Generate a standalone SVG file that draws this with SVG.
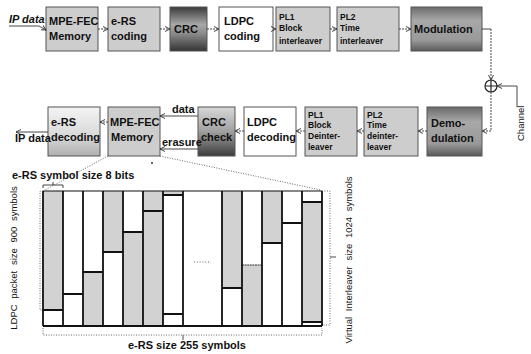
<svg xmlns="http://www.w3.org/2000/svg" width="531" height="354" viewBox="0 0 531 354">
<style>
.box{stroke:#555;stroke-width:1}
.lt{fill:#cdcdcd}
.wh{fill:#fff}
.lbl{font-family:"Liberation Sans",Arial,sans-serif;font-weight:bold;font-size:11px;fill:#111}
.sm{font-size:8.5px}
.txt{font-family:"Liberation Sans",Arial,sans-serif;font-size:9.5px;fill:#111}
.conn{fill:none;stroke:#333;stroke-width:0.9;stroke-dasharray:2 1}
.solid{fill:none;stroke:#333;stroke-width:0.9}
.dim{fill:none;stroke:#444;stroke-width:0.8;stroke-dasharray:1 1.5}
.g{fill:#d2d2d2}
.thick{stroke:#111;stroke-width:1.8}
</style>
<defs>
<marker id="ah" markerWidth="6" markerHeight="6" refX="5" refY="3" orient="auto" markerUnits="userSpaceOnUse">
<path d="M0,0.5 L5,3 L0,5.5" fill="none" stroke="#333" stroke-width="0.9"/>
</marker>
<linearGradient id="crc1" x1="0" y1="0" x2="0" y2="1">
<stop offset="0" stop-color="#3a3a3a"/><stop offset="0.4" stop-color="#a8a8a8"/><stop offset="0.6" stop-color="#8c8c8c"/><stop offset="1" stop-color="#333"/>
</linearGradient>
<linearGradient id="mod" x1="0" y1="0" x2="0" y2="1">
<stop offset="0" stop-color="#6a6a6a"/><stop offset="0.3" stop-color="#a8a8a8"/><stop offset="0.75" stop-color="#9a9a9a"/><stop offset="1" stop-color="#5a5a5a"/>
</linearGradient>
<linearGradient id="crc2" x1="0" y1="0" x2="0" y2="1">
<stop offset="0" stop-color="#d8d8d8"/><stop offset="0.5" stop-color="#a0a0a0"/><stop offset="1" stop-color="#3c3c3c"/>
</linearGradient>
<linearGradient id="ers" x1="0" y1="0" x2="0" y2="1">
<stop offset="0" stop-color="#f4f4f4"/><stop offset="0.6" stop-color="#d8d8d8"/><stop offset="1" stop-color="#b0b0b0"/>
</linearGradient>
</defs>

<!-- top row -->
<g id="mpe1"><rect class="box lt" x="46" y="7" width="52" height="44"/><text class="lbl" x="49" y="25" font-size="9.5">MPE-FEC</text><text class="lbl" x="49" y="40" font-size="10">Memory</text></g>
<g id="ers1"><rect class="box lt" x="108" y="7" width="52" height="44"/><text class="lbl" x="111" y="25">e-RS</text><text class="lbl" x="111" y="40">coding</text></g>
<g id="crc1b"><rect class="box" fill="url(#crc1)" x="170" y="7" width="37" height="44"/><text class="lbl" x="174" y="33">CRC</text></g>
<g id="ldpc1"><rect class="box wh" x="219" y="7" width="54" height="44"/><text class="lbl" x="224" y="25">LDPC</text><text class="lbl" x="224" y="40">coding</text></g>
<g id="pl1a"><rect class="box lt" x="276" y="7" width="54" height="44"/><text class="lbl sm" x="279" y="20">PL1</text><text class="lbl sm" x="279" y="31">Block</text><text class="lbl sm" x="279" y="44">interleaver</text></g>
<g id="pl2a"><rect class="box lt" x="337" y="7" width="62" height="44"/><text class="lbl sm" x="340" y="20">PL2</text><text class="lbl sm" x="340" y="31">Time</text><text class="lbl sm" x="340" y="44">interleaver</text></g>
<g id="mod1"><rect class="box" fill="url(#mod)" x="411" y="7" width="71" height="44"/><text class="lbl" x="414" y="33" font-size="12">Modulation</text></g>

<!-- adder -->
<g id="adder"><circle cx="491" cy="86" r="6" fill="#fff" stroke="#222" stroke-width="1.2"/><path d="M485,86 H497 M491,80 V92" stroke="#222" stroke-width="1.2"/></g>
<g id="channel"><text class="txt" transform="translate(524,141) rotate(-90)">Channel</text></g>

<!-- second row -->
<g id="ersd"><rect class="box" fill="url(#ers)" x="48" y="107" width="52" height="49"/><text class="lbl" x="51" y="126">e-RS</text><text class="lbl" x="51" y="141" font-size="10.5">decoding</text></g>
<g id="mpe2"><rect class="box lt" x="108" y="107" width="52" height="49"/><text class="lbl" x="110" y="126" font-size="9.5">MPE-FEC</text><text class="lbl" x="111" y="141" font-size="10">Memory</text></g>
<g id="crc2b"><rect class="box" fill="url(#crc2)" x="198" y="107" width="37" height="49"/><text class="lbl" x="202" y="126">CRC</text><text class="lbl" x="201" y="141">check</text></g>
<g id="ldpc2"><rect class="box wh" x="244" y="107" width="52" height="49"/><text class="lbl" x="247" y="126">LDPC</text><text class="lbl" x="247" y="141" font-size="10.5">decoding</text></g>
<g id="pl1b"><rect class="box lt" x="305" y="107" width="52" height="49"/><text class="lbl sm" x="308" y="118">PL1</text><text class="lbl sm" x="308" y="128">Block</text><text class="lbl sm" x="308" y="139">Deinter-</text><text class="lbl sm" x="308" y="150">leaver</text></g>
<g id="pl2b"><rect class="box lt" x="364" y="107" width="54" height="49"/><text class="lbl sm" x="367" y="118">PL2</text><text class="lbl sm" x="367" y="128">Time</text><text class="lbl sm" x="367" y="139">deinter-</text><text class="lbl sm" x="367" y="150">leaver</text></g>
<g id="demod"><rect class="box" fill="url(#mod)" x="427" y="107" width="55" height="49"/><text class="lbl" x="431" y="127">Demo-</text><text class="lbl" x="431" y="142">dulation</text></g>

<!-- connectors -->
<g id="connectors">
<text class="lbl" x="9" y="23" font-size="8.5" font-style="italic">IP data</text>
<path class="solid" d="M9,26 H39 L46,30" marker-end="url(#ah)"/>
<path class="conn" d="M98,29 H108" marker-end="url(#ah)"/>
<path class="conn" d="M160,29 H170" marker-end="url(#ah)"/>
<path class="conn" d="M207,29 H219" marker-end="url(#ah)"/>
<path class="conn" d="M273,29 H276" marker-end="url(#ah)"/>
<path class="conn" d="M330,29 H337" marker-end="url(#ah)"/>
<path class="conn" d="M399,29 H411" marker-end="url(#ah)"/>
<path class="solid" d="M482,29 H491"/>
<path class="conn" d="M491,29 V80" marker-end="url(#ah)"/>
<path class="solid" d="M517,107 V86 H497" marker-end="url(#ah)"/>
<path class="conn" d="M491,92 V131 H482" marker-end="url(#ah)"/>
<path class="conn" d="M427,131 H418" marker-end="url(#ah)"/>
<path class="conn" d="M364,131 H357" marker-end="url(#ah)"/>
<path class="conn" d="M305,131 H296" marker-end="url(#ah)"/>
<path class="conn" d="M244,131 H235" marker-end="url(#ah)"/>
<path class="solid" d="M198,116 H160" marker-end="url(#ah)"/>
<text class="lbl" x="172" y="113" font-size="8.5">data</text>
<path class="solid" d="M198,149 H160" marker-end="url(#ah)"/>
<text class="lbl" x="162" y="146" font-size="8.5">erasure</text>
<path class="conn" d="M108,122 H100" marker-end="url(#ah)"/>
<path class="solid" d="M48,132 H16" marker-end="url(#ah)"/>
<text class="lbl" x="15" y="142" font-size="9">IP data</text>
<path class="dim" d="M108,156 L45,190"/>
<path class="dim" d="M160,156 L321,190"/>
<circle cx="152" cy="163" r="0.9" fill="#222"/>
</g>

<!-- memory expansion grid -->
<g id="grid">
<text class="lbl" x="12" y="179" font-size="9.5">e-RS symbol size 8 bits</text>
<path class="solid" d="M43,188 V185 H63 V188 M53,185 V182"/>
<rect class="g" x="43" y="191" width="20" height="119"/>
<rect class="g" x="83" y="272" width="20" height="54"/>
<rect class="g" x="103" y="191" width="20" height="61"/>
<rect class="g" x="123" y="232" width="20" height="94"/>
<rect class="g" x="143" y="191" width="20" height="135"/>
<rect class="g" x="163" y="191" width="20" height="4"/>
<rect class="g" x="222" y="191" width="20" height="97"/>
<rect class="g" x="242" y="265" width="20" height="61"/>
<rect class="g" x="262" y="191" width="20" height="52"/>
<rect class="g" x="302" y="202" width="20" height="120"/>
<path class="thick" d="M43,310 H63 M63,294 H83 M83,272 H103 M103,252 H123 M123,232 H143 M143,211 H163 M163,195 H183 M163,314 H183 M222,288 H242 M262,243 H282 M282,223 H302 M302,202 H322 M302,322 H322"/>
<path stroke="#333" stroke-width="1.2" stroke-dasharray="2 0.6" d="M242,265 H262"/>
<path class="thick" d="M43,191 V326 M63,191 V326 M83,191 V326 M103,191 V326 M123,191 V326 M143,191 V326 M163,191 V326 M183,191 V326 M222,191 V326 M242,191 V326 M262,191 V326 M282,191 V326 M302,191 V326 M322,191 V326"/>
<path stroke="#111" stroke-width="1.2" d="M43,191 H322"/>
<path stroke="#111" stroke-width="2" d="M43,326 H322"/>
<path d="M194,262 H211" stroke="#333" stroke-width="0.8" stroke-dasharray="1 1.8"/>
<!-- dimensions -->
<path class="dim" d="M43,191 H40 V310 H43"/>
<text class="txt" transform="translate(17,258) rotate(-90)" text-anchor="middle" word-spacing="3">LDPC packet size 900 symbols</text>
<path class="dim" d="M43,328 V335 H322 V328"/>
<path class="solid" d="M183,335 V340"/>
<text class="lbl" x="187" y="349" text-anchor="middle" font-size="9.5">e-RS size 255 symbols</text>
<path class="dim" d="M322,191 H330 V325 H322"/>
<path class="solid" d="M330,257 H336"/>
<text class="txt" transform="translate(352,260) rotate(-90)" text-anchor="middle" word-spacing="3">Virtual Interleaver size 1024 symbols</text>
</g>
</svg>
